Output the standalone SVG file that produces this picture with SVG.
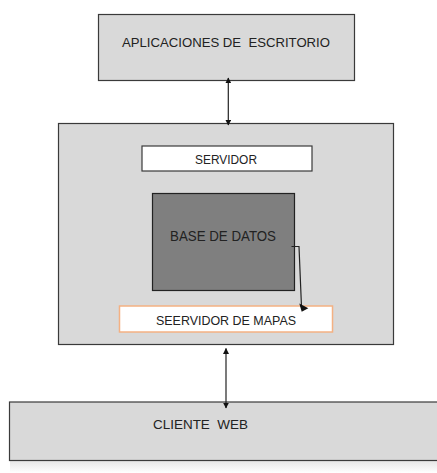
<svg xmlns="http://www.w3.org/2000/svg" width="437" height="473" viewBox="0 0 437 473">
<style>
.box{fill:#d9d9d9;stroke:#3a3a3a;stroke-width:1.2}
.wbox{fill:#ffffff;stroke:#3a3a3a;stroke-width:1.2}
.t{font-family:"Liberation Sans",Arial,sans-serif;fill:#222;white-space:pre}
.c{fill:none;stroke:#222;stroke-width:1.2}
</style>
<defs>
<marker id="ah" viewBox="0 0 10 10" refX="9" refY="5" markerWidth="6" markerHeight="6" orient="auto-start-reverse" markerUnits="userSpaceOnUse">
<path d="M0,0 L10,5 L0,10 z" fill="#111"/>
</marker>
<linearGradient id="fade" x1="0" y1="0" x2="0" y2="1">
<stop offset="0" stop-color="#e6e6e6"/>
<stop offset="1" stop-color="#ffffff"/>
</linearGradient>
</defs>
<rect x="0" y="0" width="437" height="473" fill="#ffffff"/>
<rect x="10" y="461" width="427" height="12" fill="url(#fade)"/>
<g id="aplicaciones">
<rect class="box" x="98.5" y="14.5" width="256" height="66"/>
<text class="t" x="122" y="47" font-size="13" textLength="208" lengthAdjust="spacingAndGlyphs">APLICACIONES DE  ESCRITORIO</text>
</g>
<g id="servidor-principal">
<rect class="box" x="58.5" y="123.5" width="335" height="221"/>
</g>
<g id="servidor">
<rect class="wbox" x="142" y="146" width="170" height="25"/>
<text class="t" x="195" y="163.5" font-size="12.5" textLength="62" lengthAdjust="spacingAndGlyphs">SERVIDOR</text>
</g>
<g id="base-de-datos">
<rect x="152.5" y="193.5" width="142" height="97" fill="#7f7f7f" stroke="#222" stroke-width="1.2"/>
<text class="t" x="170" y="241" font-size="15" textLength="106" lengthAdjust="spacingAndGlyphs">BASE DE DATOS</text>
</g>
<g id="servidor-mapas">
<rect x="119.5" y="306" width="213" height="26" fill="#ffffff" stroke="#f4b183" stroke-width="1.5"/>
<text class="t" x="156" y="325" font-size="13" textLength="140" lengthAdjust="spacingAndGlyphs">SEERVIDOR DE MAPAS</text>
</g>
<g id="cliente-web">
<rect class="box" x="9.5" y="402" width="440" height="58.5" stroke-width="1.5"/>
<text class="t" x="153" y="428.5" font-size="13" textLength="95" lengthAdjust="spacingAndGlyphs">CLIENTE  WEB</text>
</g>
<g id="connectors">
<line class="c" x1="228.3" y1="78" x2="228.3" y2="125" marker-start="url(#ah)" marker-end="url(#ah)"/>
<line class="c" x1="226" y1="348.5" x2="226" y2="408" marker-start="url(#ah)" marker-end="url(#ah)"/>
<polyline class="c" points="291.5,246.5 299,246.5 301.5,307"/>
<polygon points="299.3,303.5 301.7,311.7 308.3,308.3" fill="#111"/>
</g>
</svg>
